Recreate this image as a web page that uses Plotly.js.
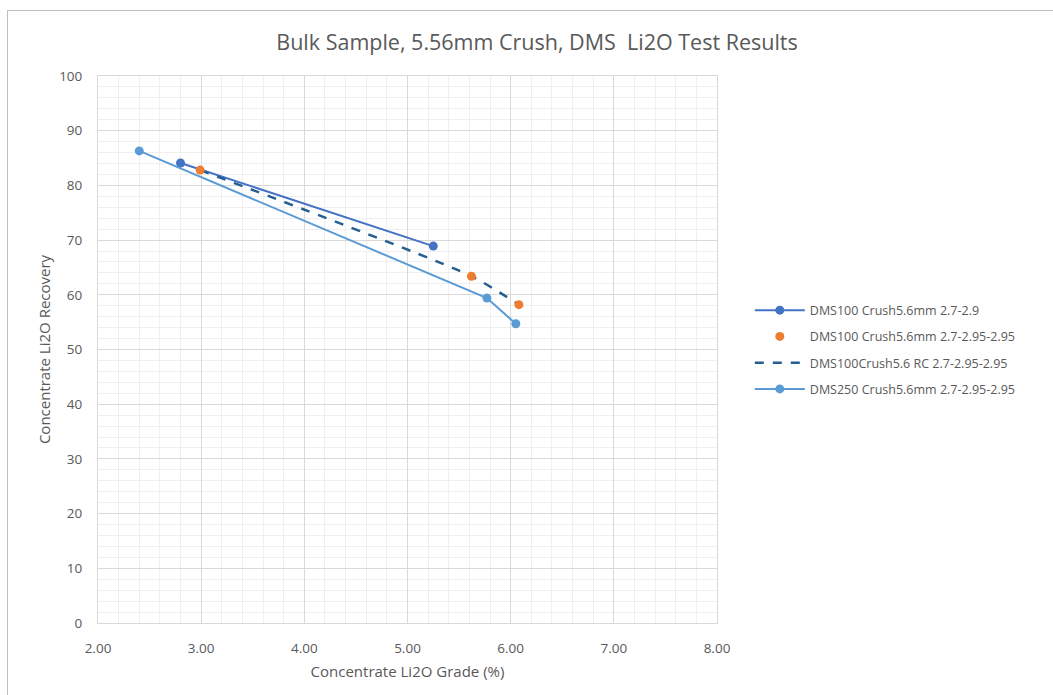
<!DOCTYPE html>
<html><head><meta charset="utf-8">
<script src="https://cdn.plot.ly/plotly-3.0.1.min.js"></script>
<style>
html,body{margin:0;padding:0;background:#fff;}
#wrap{position:relative;width:1053px;height:695px;}
#chart{width:1053px;height:695px;}
#frame{position:absolute;left:7px;top:10px;width:1050px;height:690px;border:1px solid #BFBFBF;pointer-events:none;box-sizing:border-box;}
</style></head>
<body>
<div id="wrap"><div id="chart"></div><div id="frame"></div></div>
<script>
const titleText = "Bulk Sample, 5.56mm Crush, DMS  Li2O Test Results";
const xTitle = "Concentrate Li2O Grade (%)";
const yTitle = "Concentrate Li2O Recovery";

const s1Name = "DMS100 Crush5.6mm 2.7-2.9";
const s1X = [2.80, 5.25];
const s1Y = [84.1, 68.9];

const s2Name = "DMS100 Crush5.6mm 2.7-2.95-2.95";
const s2X = [2.99, 5.62, 6.08];
const s2Y = [82.8, 63.4, 58.2];

const s3Name = "DMS100Crush5.6 RC 2.7-2.95-2.95";
const s3X = [2.99, 5.62, 6.08];
const s3Y = [82.8, 63.4, 58.2];

const s4Name = "DMS250 Crush5.6mm 2.7-2.95-2.95";
const s4X = [2.40, 5.77, 6.05];
const s4Y = [86.3, 59.4, 54.7];

const xTicks = [2, 3, 4, 5, 6, 7, 8];
const xTickText = ["2.00", "3.00", "4.00", "5.00", "6.00", "7.00", "8.00"];

const fontFam = "Open Sans, sans-serif";
const txtCol = "#595959";

const traces = [
  {x: s1X, y: s1Y, name: s1Name, mode: "lines+markers", legendgroup: "a", legendrank: 1,
   line: {color: "#4472C4", width: 2}, marker: {color: "#4472C4", size: 9}},
  {x: s2X, y: s2Y, name: s2Name, mode: "markers", legendgroup: "b", legendrank: 2,
   marker: {color: "#ED7D31", size: 9}},
  {x: s3X, y: s3Y, name: s3Name, mode: "lines", legendgroup: "c", legendrank: 3,
   line: {color: "#255E91", width: 2.5, dash: "dash", shape: "spline", smoothing: 0.6}},
  {x: s4X, y: s4Y, name: s4Name, mode: "lines+markers", legendgroup: "d", legendrank: 4,
   line: {color: "#5B9BD5", width: 2}, marker: {color: "#5B9BD5", size: 9}}
];
// draw order: orange markers on top of the dashed line
const ordered = [traces[0], traces[2], traces[3], traces[1]];

const layout = {
  width: 1053, height: 695,
  margin: {l: 98, r: 336, t: 76, b: 72},
  paper_bgcolor: "#fff", plot_bgcolor: "#fff",
  font: {family: fontFam, color: txtCol, size: 13},
  title: {text: titleText, x: 0.51, xref: "container", xanchor: "center",
          y: 1 - 42/695, yref: "container", yanchor: "middle",
          font: {family: fontFam, size: 21.5, color: txtCol}},
  xaxis: {range: [2, 8], tickvals: xTicks, ticktext: xTickText,
          showgrid: true, gridcolor: "#D9D9D9", gridwidth: 1,
          minor: {dtick: 0.2, showgrid: true, gridcolor: "#EFEFEF", gridwidth: 1},
          showline: true, linecolor: "#D9D9D9", mirror: true, zeroline: false,
          ticks: "outside", ticklen: 13, tickcolor: "rgba(0,0,0,0)",
          tickfont: {size: 13.5, color: txtCol},
          title: {text: xTitle, standoff: 10, font: {size: 15, color: txtCol}}},
  yaxis: {range: [0, 100], dtick: 10,
          showgrid: true, gridcolor: "#D9D9D9", gridwidth: 1,
          minor: {dtick: 2, showgrid: true, gridcolor: "#EFEFEF", gridwidth: 1},
          showline: true, linecolor: "#D9D9D9", mirror: true, zeroline: false,
          ticks: "outside", ticklen: 12, tickcolor: "rgba(0,0,0,0)",
          tickfont: {size: 13.5, color: txtCol},
          title: {text: yTitle, standoff: 4, font: {size: 15, color: txtCol}}},
  showlegend: true,
  legend: {x: 1.053, xanchor: "left", y: 0.5, yanchor: "middle",
           traceorder: "grouped", tracegroupgap: 7, itemwidth: 50,
           font: {size: 12.5, color: txtCol}, bgcolor: "rgba(0,0,0,0)"}
};

Plotly.newPlot("chart", ordered, layout, {displayModeBar: false, staticPlot: true});
</script>
</body></html>
